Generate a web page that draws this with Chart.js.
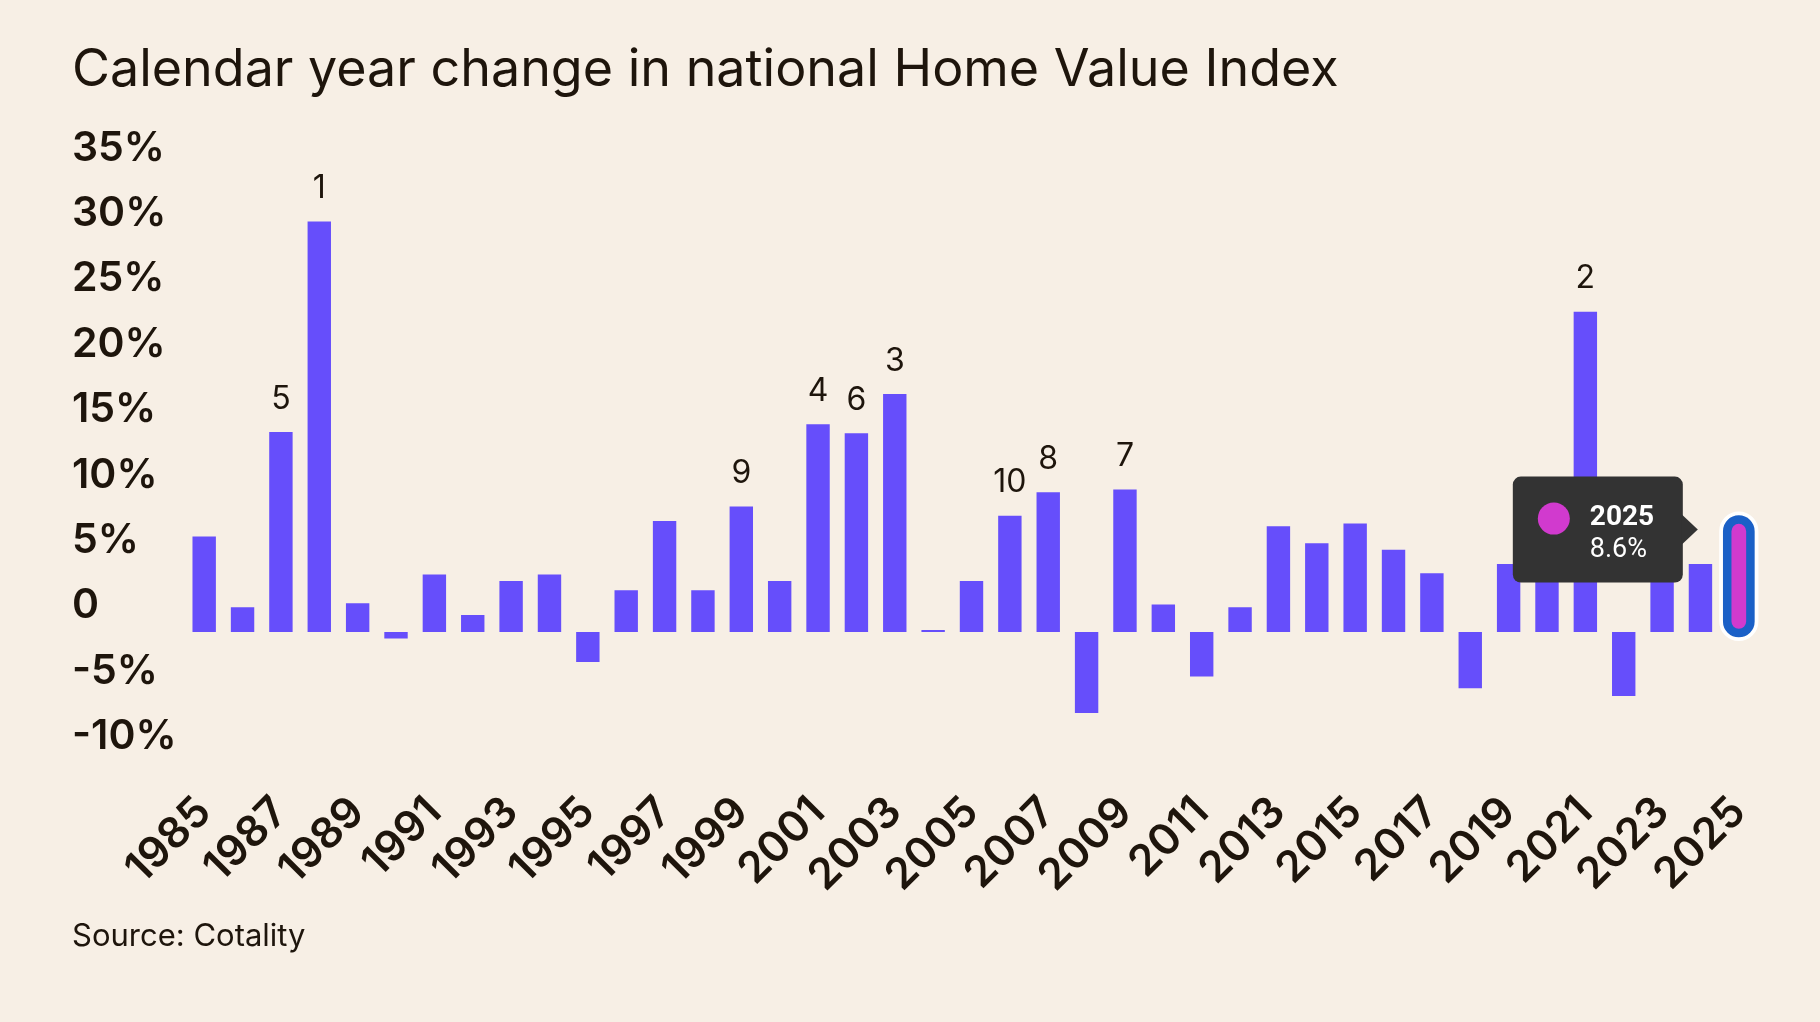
<!DOCTYPE html>
<html>
<head>
<meta charset="utf-8">
<script src="https://cdn.jsdelivr.net/npm/chart.js@4.4.1/dist/chart.umd.min.js"></script>
<style>
  html, body { margin: 0; padding: 0; background: #f7efe5; }
  #wrap { width: 1820px; height: 1022px; }
</style>
</head>
<body>
<div id="wrap"><canvas id="c" width="1820" height="1022"></canvas></div>
<script>
// ---- data ----
const years = ['1985','1986','1987','1988','1989','1990','1991','1992','1993','1994',
  '1995','1996','1997','1998','1999','2000','2001','2002','2003','2004',
  '2005','2006','2007','2008','2009','2010','2011','2012','2013','2014',
  '2015','2016','2017','2018','2019','2020','2021','2022','2023','2024','2025'];
const changes = [7.3, 1.9, 15.3, 31.4, 2.2, -0.5, 4.4, 1.3, 3.9, 4.4,
  -2.3, 3.2, 8.5, 3.2, 9.6, 3.9, 15.9, 15.2, 18.2, 0.15,
  3.9, 8.9, 10.7, -6.2, 10.9, 2.1, -3.4, 1.9, 8.1, 6.8,
  8.3, 6.3, 4.5, -4.3, 5.2, 4.5, 24.5, -4.9, 8.1, 5.2, 8.6];
const rankLabels = ['','','5','1','','','','','','',
  '','','','','9','','4','6','3','',
  '','10','8','','7','','','','','',
  '','','','','','','2','','','',''];
const yMin = -10, yMax = 35, yStep = 5;
const highlightYear = '2025';
const tooltipTitle = '2025';
const tooltipValue = '8.6%';
const titleText = 'Calendar year change in national Home Value Index';
const sourceText = 'Source: Cotality';

// ---- styles ----
const INK = '#1e150c';
const BAR = '#664efb';
const MAGENTA = '#d13ace';
const BLUE = '#1a60c7';
const FONT = 'Inter, "Noto Sans", sans-serif';
const hiIndex = years.indexOf(highlightYear);

const overlay = {
  id: 'overlay',
  afterDatasetsDraw(chart) {
    const ctx = chart.ctx;
    const meta = chart.getDatasetMeta(0);
    // rank labels
    ctx.save();
    ctx.font = '400 32px ' + FONT;
    ctx.fillStyle = INK;
    ctx.textAlign = 'center';
    ctx.textBaseline = 'bottom';
    meta.data.forEach((el, i) => {
      if (rankLabels[i]) ctx.fillText(rankLabels[i], el.x, el.y - 17);
    });
    ctx.restore();

    // highlighted bar (pill)
    const el = meta.data[hiIndex];
    const r = 11.6;
    const top = el.y, bot = el.base + 1;
    ctx.save();
    ctx.beginPath();
    ctx.roundRect(el.x - r, top, 2 * r, bot - top, r);
    ctx.lineWidth = 16;
    ctx.strokeStyle = '#ffffff';
    ctx.stroke();
    ctx.fillStyle = MAGENTA;
    ctx.fill();
    ctx.lineWidth = 8.5;
    ctx.strokeStyle = BLUE;
    ctx.stroke();
    ctx.restore();
  },
  afterDraw(chart) {
    const ctx = chart.ctx;
    const el = chart.getDatasetMeta(0).data[hiIndex];
    const tipX = el.x - 41, tipY = el.y + 10;
    const caretW = 15, caretH = 15;
    const w = 170, h = 106, rad = 8;
    const right = tipX - caretW, left = right - w, top = tipY - h / 2;
    ctx.save();
    ctx.fillStyle = '#333333';
    ctx.beginPath();
    ctx.roundRect(left, top, w, h, rad);
    ctx.fill();
    ctx.beginPath();
    ctx.moveTo(right - 1, tipY - caretH);
    ctx.lineTo(tipX, tipY);
    ctx.lineTo(right - 1, tipY + caretH);
    ctx.closePath();
    ctx.fill();
    ctx.fillStyle = MAGENTA;
    ctx.beginPath();
    ctx.arc(left + 41, top + 42, 16, 0, Math.PI * 2);
    ctx.fill();
    ctx.fillStyle = '#ffffff';
    ctx.textAlign = 'left';
    ctx.textBaseline = 'alphabetic';
    ctx.font = '700 28px Roboto, ' + FONT;
    ctx.fillText(tooltipTitle, left + 77, top + 48);
    ctx.font = '400 27px Roboto, ' + FONT;
    ctx.fillText(tooltipValue, left + 77, top + 80);
    ctx.restore();
  }
};

new Chart(document.getElementById('c'), {
  type: 'bar',
  data: {
    labels: years,
    datasets: [{
      data: changes,
      backgroundColor: (c) => c.dataIndex === hiIndex ? 'rgba(0,0,0,0)' : BAR,
      borderWidth: 0,
      barPercentage: 0.61,
      categoryPercentage: 1.0
    }]
  },
  options: {
    responsive: false,
    devicePixelRatio: 1,
    animation: false,
    events: [],
    layout: { padding: { left: 72, right: 62, top: 0, bottom: 0 } },
    plugins: {
      legend: { display: false },
      tooltip: { enabled: false },
      title: {
        display: true,
        text: titleText,
        align: 'start',
        color: INK,
        font: { family: FONT, size: 52, weight: '400' },
        padding: { top: 39, bottom: 73 }
      },
      subtitle: {
        display: true,
        text: sourceText,
        position: 'bottom',
        align: 'start',
        color: INK,
        font: { family: FONT, size: 31, weight: '400' },
        padding: { top: 10, bottom: 67 }
      }
    },
    scales: {
      x: {
        grid: { display: false },
        border: { display: false },
        afterFit: (s) => { s.height = 145; },
        ticks: {
          autoSkip: false,
          maxRotation: 45,
          minRotation: 45,
          padding: 16,
          color: INK,
          font: { family: FONT, size: 43, weight: '600' },
          callback: (v, i) => (i % 2 === 0 ? years[i] : '')
        }
      },
      y: {
        min: yMin,
        max: yMax,
        grid: { display: false },
        border: { display: false },
        afterFit: (s) => { s.width = 113; },
        ticks: {
          stepSize: yStep,
          crossAlign: 'far',
          labelOffset: -26,
          color: INK,
          font: { family: FONT, size: 41, weight: '600' },
          callback: (v) => (v === 0 ? '0' : v + '%')
        }
      }
    }
  },
  plugins: [overlay]
});
</script>
</body>
</html>
